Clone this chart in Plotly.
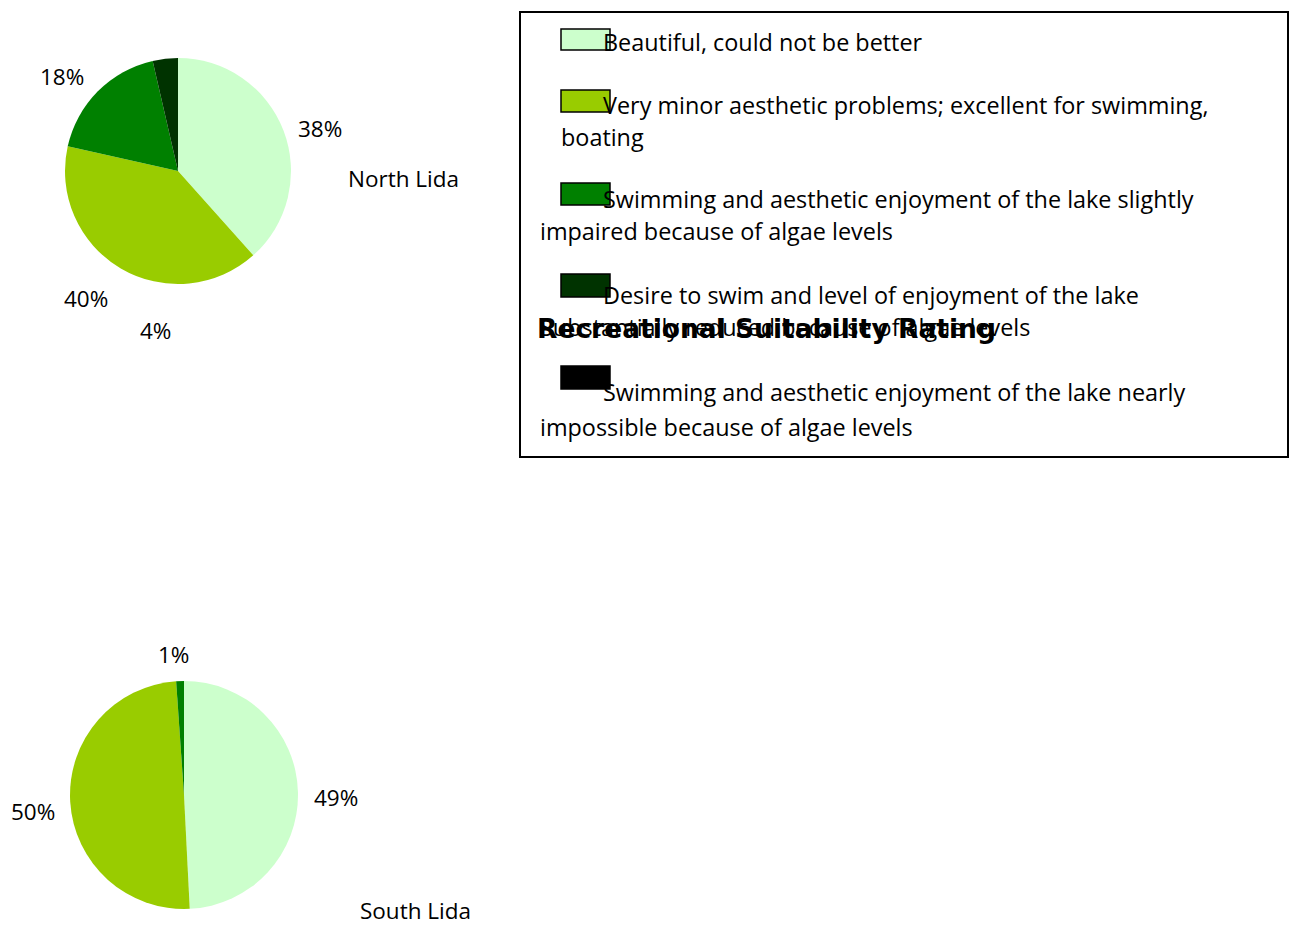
import plotly.graph_objects as go

W, H = 1289, 926

categories = [
    "Beautiful, could not be better",
    "Very minor aesthetic problems; excellent for swimming, boating",
    "Swimming and aesthetic enjoyment of the lake slightly impaired because of algae levels",
    "Desire to swim and level of enjoyment of the lake substantially reduced because of algae levels",
    "Swimming and aesthetic enjoyment of the lake nearly impossible because of algae levels",
]
colors = ["#CCFFCC", "#99CC00", "#008000", "#003300", "#000000"]
north_values = [38.4, 40.1, 17.9, 3.6, 0.0]
south_values = [49.2, 49.7, 1.1, 0.0, 0.0]
legend_title = "Recreational Suitability Rating"

FONT = "Open Sans"
FS = 22.5
LFS = 23.4

def px(x):
    return x / W

def py(y):
    return 1 - y / H

fig = go.Figure()
fig.add_trace(go.Pie(
    values=north_values, labels=categories, sort=False, direction="clockwise",
    rotation=0, marker=dict(colors=colors, line=dict(width=0)), textinfo="none",
    hoverinfo="label+percent", showlegend=False,
    domain=dict(x=[px(65), px(291)], y=[py(284), py(58)]),
))
fig.add_trace(go.Pie(
    values=south_values, labels=categories, sort=False, direction="clockwise",
    rotation=0, marker=dict(colors=colors, line=dict(width=0)), textinfo="none",
    hoverinfo="label+percent", showlegend=False,
    domain=dict(x=[px(70), px(298)], y=[py(909), py(681)]),
))

def pct(vals):
    t = sum(vals)
    return [f"{round(v / t * 100):.0f}%" for v in vals]

north_pct = pct(north_values)
south_pct = pct(south_values)

ann = []
def label(text, x, y, size=FS, xanchor="center", bold=False, family=FONT):
    ann.append(dict(text=(f"<b>{text}</b>" if bold else text), x=px(x), y=py(y),
                    xref="paper", yref="paper", showarrow=False, xanchor=xanchor,
                    yanchor="middle", font=dict(family=family, size=size, color="#000")))

# North Lida labels
north_pos = [(320, 128), (86, 298), (62, 76), (155, 330)]
for (x, y), t in zip(north_pos, north_pct[:4]):
    label(t, x, y)
label("North Lida", 403, 178)

# South Lida labels
south_pos = [(336, 797), (33, 811), (173, 654)]
for (x, y), t in zip(south_pos, south_pct[:3]):
    label(t, x, y)
label("South Lida", 415, 910)

# Legend box
shapes = [dict(type="rect", xref="paper", yref="paper", x0=px(520), x1=px(1288),
               y0=py(457), y1=py(12), line=dict(color="#000", width=2),
               fillcolor="rgba(0,0,0,0)")]

legend_lines = [
    [("Beautiful, could not be better", 601, 42)],
    [("Very minor aesthetic problems; excellent for swimming,", 601, 105), ("boating", 559, 137)],
    [("Swimming and aesthetic enjoyment of the lake slightly", 601, 199), ("impaired because of algae levels", 538, 231)],
    [("Desire to swim and level of enjoyment of the lake", 601, 295), ("Substantially reduced because of algae levels", 538, 327)],
    [("Swimming and aesthetic enjoyment of the lake nearly", 601, 392), ("impossible because of algae levels", 538, 427)],
]
swatch_y = [(29, 50), (90, 112), (183, 205), (274, 297), (366, 389)]
for c, (y0, y1) in zip(colors, swatch_y):
    shapes.append(dict(type="rect", xref="paper", yref="paper", x0=px(561), x1=px(610),
                       y0=py(y1), y1=py(y0), fillcolor=c, line=dict(color="#000", width=1.5)))
for lines in legend_lines:
    for t, x, y in lines:
        label(t, x, y, size=LFS, xanchor="left")

label(legend_title, 535, 329, size=26.5, xanchor="left", bold=True, family="DejaVu Sans")

fig.update_layout(
    width=W, height=H, margin=dict(l=0, r=0, t=0, b=0),
    paper_bgcolor="white", plot_bgcolor="white",
    annotations=ann, shapes=shapes, showlegend=False,
)
fig.write_html("out.html")
